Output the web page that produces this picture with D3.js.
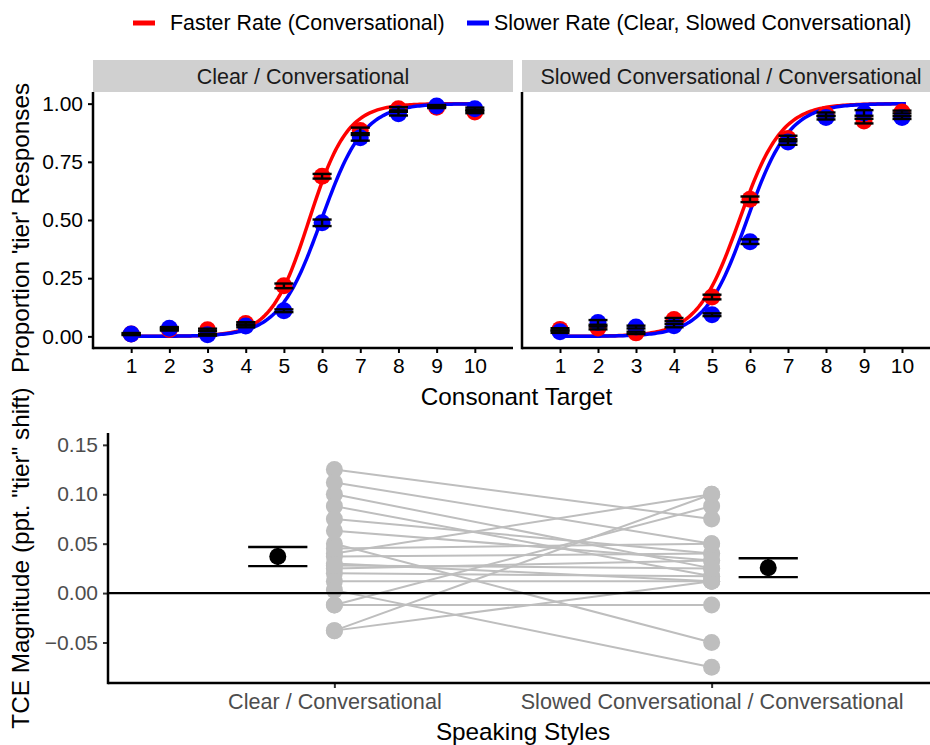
<!DOCTYPE html>
<html>
<head>
<meta charset="utf-8">
<script src="https://cdn.jsdelivr.net/npm/d3@7/dist/d3.min.js"></script>
<style>
  body { margin: 0; background: #fff; }
  svg { display: block; font-family: "Liberation Sans", Arial, sans-serif; }
</style>
</head>
<body>
<div id="chart"></div>
<script>
// ---- data ----
const targets = [1, 2, 3, 4, 5, 6, 7, 8, 9, 10];
const panels = ["Clear / Conversational", "Slowed Conversational / Conversational"];
const rates = ["Faster Rate (Conversational)", "Slower Rate (Clear, Slowed Conversational)"];

// mean proportion 'tier' per consonant step
const clearFast  = [0.010, 0.030, 0.028, 0.055, 0.217, 0.688, 0.885, 0.978, 0.985, 0.964];
const clearSlow  = [0.010, 0.035, 0.007, 0.045, 0.110, 0.488, 0.853, 0.957, 0.990, 0.978];
const slowedFast = [0.030, 0.036, 0.015, 0.072, 0.169, 0.589, 0.850, 0.954, 0.925, 0.964];
const slowedSlow = [0.020, 0.060, 0.040, 0.046, 0.093, 0.407, 0.835, 0.940, 0.960, 0.940];
// standard errors
const clearFastSe  = [0.004, 0.005, 0.005, 0.006, 0.010, 0.010, 0.012, 0.007, 0.004, 0.005];
const clearSlowSe  = [0.004, 0.005, 0.004, 0.006, 0.006, 0.014, 0.012, 0.008, 0.004, 0.005];
const slowedFastSe = [0.005, 0.006, 0.005, 0.007, 0.010, 0.012, 0.012, 0.008, 0.010, 0.006];
const slowedSlowSe = [0.005, 0.010, 0.006, 0.007, 0.006, 0.010, 0.012, 0.008, 0.012, 0.006];

// logistic fits: [midpoint, slope]
const fitClearFast  = [5.66, 2.0];
const fitClearSlow  = [5.98, 1.8];
const fitSlowedFast = [5.72, 1.8];
const fitSlowedSlow = [5.92, 1.8];

// per-listener TCE magnitude (clear/conv, slowed/conv)
const tceClear  = [0.125, 0.112, 0.100, 0.088, 0.075, 0.063, 0.050, 0.040, 0.037, 0.030,
                   0.025, 0.020, 0.012, 0.003, -0.012, -0.012, -0.038, -0.038, 0.045, 0.028];
const tceSlowed = [0.075, 0.050, 0.025, 0.017, 0.040, 0.033, -0.050, 0.100, 0.040, 0.012,
                   0.033, 0.017, 0.012, -0.075, 0.088, -0.012, 0.100, 0.012, 0.050, 0.025];
const tceMean = [0.037, 0.0257];
const tceSe   = [0.0097, 0.0096];

const propTicks = [0, 0.25, 0.5, 0.75, 1];
const tceTicks = [-0.05, 0, 0.05, 0.10, 0.15];

const red = "#ff0000", blue = "#0000ff", gray = "#bebebe";
const tickFont = 21, stripFont = 21.5, titleFont = 24.3;

// ---- layout ----
const W = 930, H = 745;
const svg = d3.select("#chart").append("svg").attr("width", W).attr("height", H);

const upper = { y0: 92, y1: 348, strip: 60 };
const panelX = [[93, 513], [522, 940]];

// legend
const legend = svg.append("g").attr("font-size", 21.4).attr("fill", "#000");
[[133, 170, red, rates[0]], [467, 494, blue, rates[1]]].forEach(([lx, tx, c, t]) => {
  legend.append("line").attr("x1", lx).attr("x2", lx + 22).attr("y1", 23).attr("y2", 23)
    .attr("stroke", c).attr("stroke-width", 5);
  legend.append("text").attr("x", tx).attr("y", 23).attr("dy", "0.35em").text(t);
});

const yProp = d3.scaleLinear([-0.05, 1.05], [upper.y1, upper.y0]);

const panelData = [
  { fast: clearFast, slow: clearSlow, fastSe: clearFastSe, slowSe: clearSlowSe, fitF: fitClearFast, fitS: fitClearSlow },
  { fast: slowedFast, slow: slowedSlow, fastSe: slowedFastSe, slowSe: slowedSlowSe, fitF: fitSlowedFast, fitS: fitSlowedSlow }
];

const logistic = ([m, k]) => t => 1 / (1 + Math.exp(-k * (t - m)));

panelData.forEach((pd, i) => {
  const [x0, x1] = panelX[i];
  const x = d3.scaleLinear([0, 11], [x0, x1]);
  const g = svg.append("g");

  // strip
  g.append("rect").attr("x", x0).attr("y", upper.strip).attr("width", x1 - x0)
    .attr("height", upper.y0 - upper.strip).attr("fill", "#d0d0d0");
  g.append("text").attr("x", (x0 + x1) / 2).attr("y", (upper.strip + upper.y0) / 2)
    .attr("dy", "0.35em").attr("text-anchor", "middle").attr("font-size", stripFont)
    .attr("fill", "#1a1a1a").text(panels[i]);

  // fitted curves
  const grid = d3.range(0.9, 10.101, 0.05);
  [[pd.fitF, red], [pd.fitS, blue]].forEach(([fit, c]) => {
    const f = logistic(fit);
    g.append("path")
      .attr("d", d3.line().x(t => x(t)).y(t => yProp(f(t)))(grid))
      .attr("fill", "none").attr("stroke", c).attr("stroke-width", 3.5);
  });

  // points
  [[pd.fast, red], [pd.slow, blue]].forEach(([vals, c]) => {
    g.append("g").selectAll("circle").data(vals).join("circle")
      .attr("cx", (d, j) => x(targets[j])).attr("cy", d => yProp(d))
      .attr("r", 8.5).attr("fill", c);
  });

  // error bars
  [[pd.fast, pd.fastSe], [pd.slow, pd.slowSe]].forEach(([vals, se]) => {
    const eb = g.append("g").attr("stroke", "#000").attr("stroke-width", 2.4);
    vals.forEach((v, j) => {
      const cx = x(targets[j]);
      const hw = (x(0.5) - x(0)) / 2;
      [v - se[j], v + se[j]].forEach(yy => {
        eb.append("line").attr("x1", cx - hw).attr("x2", cx + hw)
          .attr("y1", yProp(yy)).attr("y2", yProp(yy));
      });
      eb.append("line").attr("x1", cx).attr("x2", cx)
        .attr("y1", yProp(v - se[j])).attr("y2", yProp(v + se[j]));
    });
  });

  // axes
  const xAxis = g.append("g").attr("transform", `translate(0,${upper.y1})`)
    .call(d3.axisBottom(x).tickValues(targets).tickSize(5).tickPadding(5));
  xAxis.select(".domain").remove();
  xAxis.append("line").attr("x1", x0).attr("x2", x1).attr("stroke", "#000").attr("stroke-width", 2.5);
  xAxis.selectAll(".tick line").attr("stroke-width", 2);
  xAxis.selectAll(".tick text").attr("font-size", tickFont).attr("fill", "#000");
  xAxis.attr("font-family", null);

  if (i === 0) {
    const yAxis = g.append("g").attr("transform", `translate(${x0},0)`)
      .call(d3.axisLeft(yProp).tickValues(propTicks).tickFormat(d3.format(".2f")).tickSize(5).tickPadding(5));
    yAxis.select(".domain").remove();
    yAxis.attr("font-family", null);
    yAxis.selectAll(".tick line").attr("stroke-width", 2);
    yAxis.selectAll(".tick text").attr("font-size", tickFont).attr("fill", "#000");
  }
  g.append("line").attr("x1", x0).attr("x2", x0).attr("y1", upper.y0).attr("y2", upper.y1 + 1.2)
    .attr("stroke", "#000").attr("stroke-width", 2.5);
});

svg.append("text").attr("x", (93 + 940) / 2).attr("y", 396).attr("dy", "0.35em")
  .attr("text-anchor", "middle").attr("font-size", titleFont).text("Consonant Target");
svg.append("text").attr("transform", `translate(20,228) rotate(-90)`)
  .attr("dy", "0.35em").attr("text-anchor", "middle").attr("font-size", titleFont)
  .text("Proportion 'tier' Responses");

// ---- bottom panel ----
const bot = { x0: 108, x1: 938, y0: 433, y1: 683 };
const xb = d3.scaleLinear([0.4, 2.6], [bot.x0, bot.x1]);
const yb = d3.scaleLinear([-0.091, 0.162], [bot.y1, bot.y0]);
const gb = svg.append("g");

// paired lines
gb.append("g").selectAll("line").data(tceClear).join("line")
  .attr("x1", xb(1)).attr("x2", xb(2))
  .attr("y1", d => yb(d)).attr("y2", (d, i) => yb(tceSlowed[i]))
  .attr("stroke", gray).attr("stroke-width", 2);
[[tceClear, 1], [tceSlowed, 2]].forEach(([vals, pos]) => {
  gb.append("g").selectAll("circle").data(vals).join("circle")
    .attr("cx", xb(pos)).attr("cy", d => yb(d)).attr("r", 8.5).attr("fill", gray);
});

// zero reference
gb.append("line").attr("x1", bot.x0).attr("x2", bot.x1).attr("y1", yb(0)).attr("y2", yb(0))
  .attr("stroke", "#000").attr("stroke-width", 2.2);

// means with error bars
tceMean.forEach((m, i) => {
  const cx = xb(i === 0 ? 0.85 : 2.15);
  const hw = (xb(0.157) - xb(0)) / 2;
  const e = gb.append("g").attr("stroke", "#000").attr("stroke-width", 2.4);
  [m - tceSe[i], m + tceSe[i]].forEach(v => {
    e.append("line").attr("x1", cx - hw).attr("x2", cx + hw).attr("y1", yb(v)).attr("y2", yb(v));
  });
  e.append("line").attr("x1", cx).attr("x2", cx).attr("y1", yb(m - tceSe[i])).attr("y2", yb(m + tceSe[i]));
  gb.append("circle").attr("cx", cx).attr("cy", yb(m)).attr("r", 8.5).attr("fill", "#000");
});

const xbAxis = gb.append("g").attr("transform", `translate(0,${bot.y1})`)
  .call(d3.axisBottom(xb).tickValues([1, 2]).tickFormat((d, i) => panels[i]).tickSize(5).tickPadding(6));
xbAxis.select(".domain").remove();
xbAxis.attr("font-family", null);
xbAxis.append("line").attr("x1", bot.x0).attr("x2", bot.x1).attr("stroke", "#000").attr("stroke-width", 2.5);
xbAxis.selectAll(".tick line").attr("stroke", "#333").attr("stroke-width", 2);
xbAxis.selectAll(".tick text").attr("font-size", 21.6).attr("fill", "#4d4d4d");

const ybAxis = gb.append("g").attr("transform", `translate(${bot.x0},0)`)
  .call(d3.axisLeft(yb).tickValues(tceTicks).tickFormat(d3.format(".2f")).tickSize(5).tickPadding(5));
ybAxis.select(".domain").remove();
ybAxis.attr("font-family", null);
ybAxis.selectAll(".tick line").attr("stroke", "#333").attr("stroke-width", 2);
ybAxis.selectAll(".tick text").attr("font-size", tickFont).attr("fill", "#4d4d4d");
gb.append("line").attr("x1", bot.x0).attr("x2", bot.x0).attr("y1", bot.y0).attr("y2", bot.y1 + 1.2)
  .attr("stroke", "#000").attr("stroke-width", 2.5);

svg.append("text").attr("x", (bot.x0 + bot.x1) / 2).attr("y", 731).attr("dy", "0.35em")
  .attr("text-anchor", "middle").attr("font-size", titleFont).text("Speaking Styles");
svg.append("text").attr("transform", `translate(20,${(bot.y0 + bot.y1) / 2}) rotate(-90)`)
  .attr("dy", "0.35em").attr("text-anchor", "middle").attr("font-size", titleFont)
  .text("TCE Magnitude (ppt. \"tier\" shift)");
</script>
</body>
</html>
